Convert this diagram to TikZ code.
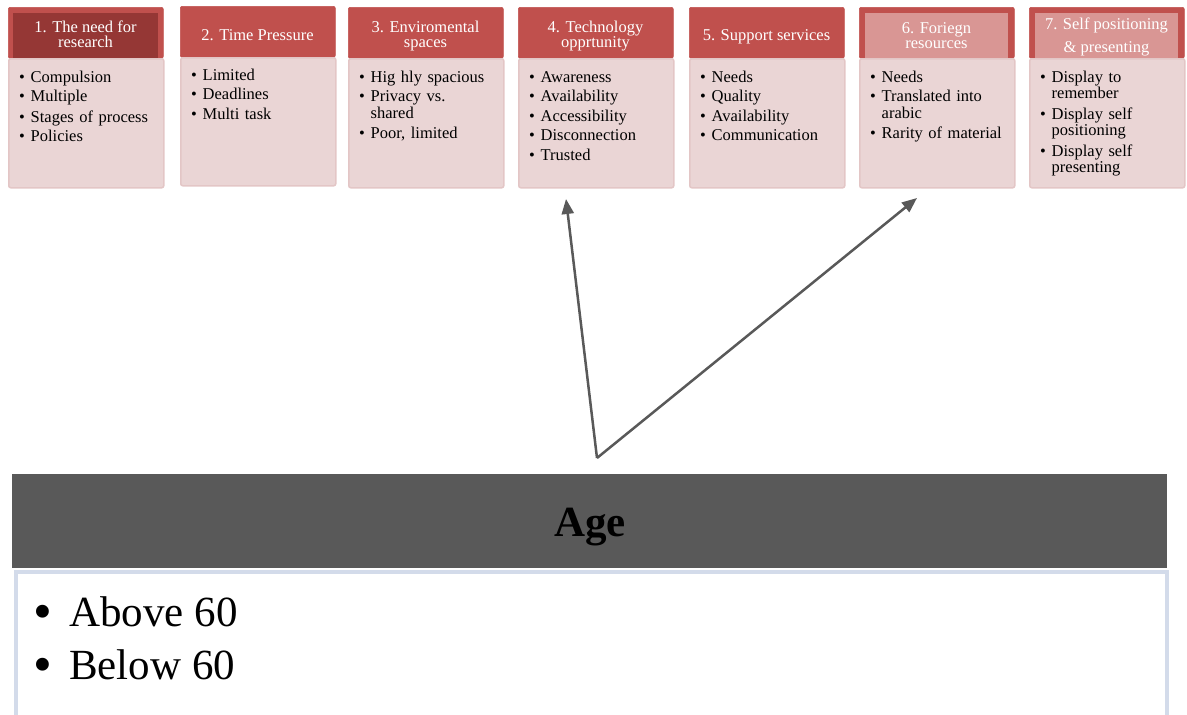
\documentclass[tikz,border=0pt]{standalone}
\usepackage{fontspec}
\setmainfont{Liberation Serif}
\usetikzlibrary{arrows.meta}
\definecolor{hdr}{HTML}{C0504D}
\definecolor{hdrdark}{HTML}{953735}
\definecolor{hdrlight}{HTML}{D99694}
\definecolor{bodyfill}{HTML}{EAD5D5}
\definecolor{bodyline}{HTML}{E3C6C6}
\definecolor{darkgrey}{HTML}{595959}
\definecolor{framecol}{HTML}{D3DBEA}
\newcommand\itm[1]{\par\noindent\makebox[11.5pt][l]{\textbullet}\parbox[t]{138pt}{\raggedright\strut #1\strut}}
\tikzset{
  hdrbox/.style={fill=hdr, draw=hdr, line width=0.6pt, rounded corners=2pt, minimum width=155pt, minimum height=51pt, anchor=north west, inner sep=0pt},
  innerbox/.style={draw=none, minimum width=145pt, minimum height=45pt, anchor=north west, inner sep=0pt},
  bodybox/.style={fill=bodyfill, draw=bodyline, line width=1.5pt, rounded corners=2pt, minimum width=155pt, minimum height=129pt, anchor=north west, inner sep=0pt},
  hdrtext/.style={text=white, align=center, font=\fontsize{16.5}{16}\selectfont, inner sep=0pt},
  bodytext/.style={anchor=north west, text width=150pt, align=left, inner sep=0pt, font=\fontsize{16.5}{16.5}\selectfont\setlength{\parskip}{3pt}},
  arr/.style={draw=darkgrey, line width=2.5pt, -{Triangle[length=15pt,width=12pt]}}
}
\begin{document}
\begin{tikzpicture}[x=1pt,y=-1pt]
\useasboundingbox (0,0) rectangle (1187,715);
% Box 1
\node[hdrbox] (h1) at (8,7) {};
\node[innerbox, fill=hdrdark] (i1) at (13,13) {};
\node[hdrtext] (t1) at (85.5,34) {1. The need for\\[-1pt]research};
\node[bodybox] (b1) at (8,58) {};
\node[bodytext] (c1) at (19,62.5) {\itm{Compulsion}\itm{Multiple}\itm{Stages of process}\itm{Policies}};
% Box 2
\node[hdrbox] (h2) at (180,6) {};
\node[hdrtext] (t2) at (257.5,35) {2. Time Pressure};
\node[bodybox, minimum height=128pt] (b2) at (180,57) {};
\node[bodytext] (c2) at (191,60.5) {\itm{Limited}\itm{Deadlines}\itm{Multi task}};
% Box 3
\node[hdrbox] (h3) at (348,7) {};
\node[hdrtext] (t3) at (425.5,36) {3. Enviromental\\[-1pt]spaces};
\node[bodybox] (b3) at (348,58) {};
\node[bodytext] (c3) at (359,62.5) {\itm{Hig hly spacious}\itm{Privacy vs.\\shared}\itm{Poor, limited}};
% Box 4
\node[hdrbox] (h4) at (518,7) {};
\node[hdrtext] (t4) at (595.5,36) {4. Technology\\[-1pt]opprtunity};
\node[bodybox] (b4) at (518,58) {};
\node[bodytext] (c4) at (529,62.5) {\itm{Awareness}\itm{Availability}\itm{Accessibility}\itm{Disconnection}\itm{Trusted}};
% Box 5
\node[hdrbox] (h5) at (689,7) {};
\node[hdrtext] (t5) at (766.5,37) {5. Support services};
\node[bodybox] (b5) at (689,58) {};
\node[bodytext] (c5) at (700,62.5) {\itm{Needs}\itm{Quality}\itm{Availability}\itm{Communication}};
% Box 6
\node[hdrbox] (h6) at (859,7) {};
\node[innerbox, fill=hdrlight, minimum width=143pt] (i6) at (865,13) {};
\node[hdrtext] (t6) at (936.5,36) {6. Foriegn\\[-1pt]resources};
\node[bodybox] (b6) at (859,58) {};
\node[bodytext] (c6) at (870,62.5) {\itm{Needs}\itm{Translated into\\arabic}\itm{Rarity of material}};
% Box 7
\node[hdrbox] (h7) at (1029,7) {};
\node[innerbox, fill=hdrlight, minimum width=143pt] (i7) at (1035,13) {};
\node[hdrtext] (t7) at (1106.5,37) {7. Self positioning\\[7pt]\& presenting};
\node[bodybox] (b7) at (1029,58) {};
\node[bodytext] (c7) at (1040,62.5) {\itm{Display to\\remember}\itm{Display self\\positioning}\itm{Display self\\presenting}};
% Bottom block
\node[fill=darkgrey, draw=none, minimum width=1155pt, minimum height=94pt, anchor=north west, inner sep=0pt] (age) at (12,474) {};
\node[font=\fontsize{43}{43}\selectfont\bfseries, inner sep=0pt] (agetxt) at (590,527) {Age};
\node[fill=white, draw=framecol, line width=4pt, minimum width=1151pt, minimum height=160pt, anchor=north west, inner sep=0pt] (list) at (14,570) {};
\node[anchor=base west, inner sep=0pt, font=\fontsize{43}{43}\selectfont] (a1) at (33,626) {\makebox[36pt][l]{\raisebox{-3.5pt}{\scalebox{1.25}{\textbullet}}}Above 60};
\node[anchor=base west, inner sep=0pt, font=\fontsize{43}{43}\selectfont] (a2) at (33,679) {\makebox[36pt][l]{\raisebox{-3.5pt}{\scalebox{1.25}{\textbullet}}}Below 60};
% Arrows
\coordinate (apex) at (597,458);
\coordinate (tipA) at (566,199);
\coordinate (tipB) at (917,198);
\draw[arr] (apex) -- (tipA);
\draw[arr] (apex) -- (tipB);
\end{tikzpicture}
\end{document}
